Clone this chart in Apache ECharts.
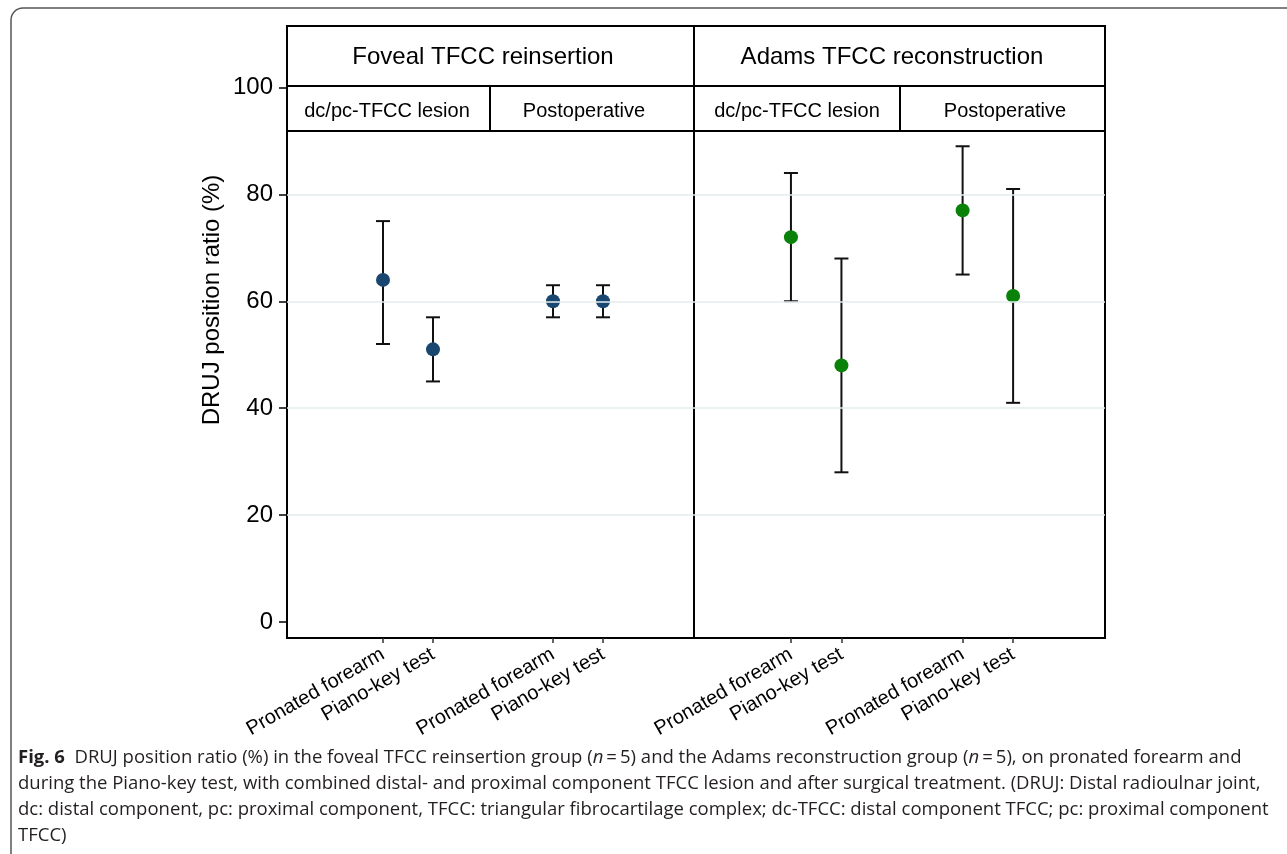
<!DOCTYPE html>
<html><head><meta charset="utf-8">
<script src="https://cdn.jsdelivr.net/npm/echarts@6/dist/echarts.min.js"></script>
<style>html,body{margin:0;padding:0;background:#fff}#c{width:1287px;height:854px}</style>
</head><body><div id="c"></div>
<script>
// ---------- data ----------
const groups = ['Foveal TFCC reinsertion', 'Adams TFCC reconstruction'];
const phases = ['dc/pc-TFCC lesion', 'Postoperative'];
const conditions = ['Pronated forearm', 'Piano-key test'];
const yTicks = [0, 20, 40, 60, 80, 100];
const yGridValues = [20, 40, 60, 80];
const yTitle = 'DRUJ position ratio (%)';
// order: lesion/pronated, lesion/piano-key, postop/pronated, postop/piano-key
const fovealMean = [64, 51, 60, 60];
const fovealLow  = [52, 45, 57, 57];
const fovealHigh = [75, 57, 63, 63];
const adamsMean  = [72, 48, 77, 61];
const adamsLow   = [60, 28, 65, 41];
const adamsHigh  = [84, 68, 89, 81];
const captionLines = [
  '{b|Fig. 6}  DRUJ position ratio (%) in the foveal TFCC reinsertion group ({i|n}\u2009=\u20095) and the Adams reconstruction group ({i|n}\u2009=\u20095), on pronated forearm and',
  'during the Piano-key test, with combined distal- and proximal component TFCC lesion and after surgical treatment. (DRUJ: Distal radioulnar joint,',
  'dc: distal component, pc: proximal component, TFCC: triangular fibrocartilage complex; dc-TFCC: distal component TFCC; pc: proximal component',
  'TFCC)'
];

// ---------- layout ----------
const xSlots = [1, 2, 4.4, 5.4];
const X_MIN = -0.92, X_MAX = 7.22;
const Y_MIN = -3, Y_MAX = 111.5;
const FONT = 'Liberation Sans, Arial, Helvetica, sans-serif';
const panels = [
  {left: 287, width: 407, mean: fovealMean, low: fovealLow, high: fovealHigh, color: '#1a476f'},
  {left: 694, width: 411, mean: adamsMean, low: adamsLow, high: adamsHigh, color: '#0a820a'}
];
const TOP = 26, BOTTOM_Y = 638;

function condName(v) {
  let idx = 0;
  xSlots.forEach((s, i) => { if (Math.abs(s - v) < 1e-6) idx = i; });
  return conditions[idx % 2];
}

const grids = [], xAxes = [], yAxes = [], series = [];
panels.forEach((p, k) => {
  grids.push({left: p.left, top: TOP, width: p.width, height: BOTTOM_Y - TOP,
    show: true, borderColor: '#000', borderWidth: 2, backgroundColor: 'transparent'});
  xAxes.push({type: 'value', gridIndex: k, min: X_MIN, max: X_MAX, position: 'bottom',
    splitLine: {show: false},
    axisLine: {show: true, onZero: false, lineStyle: {color: '#000', width: 2}},
    axisTick: {show: true, customValues: xSlots, length: 5, lineStyle: {color: '#333', width: 1.5}},
    axisLabel: {show: true, customValues: xSlots, rotate: 30, margin: 15, fontSize: 20,
      fontFamily: FONT, color: '#000', formatter: v => condName(v)}});
  yAxes.push({type: 'value', gridIndex: k, min: Y_MIN, max: Y_MAX, position: 'left',
    splitLine: {show: false},
    axisLine: {show: k === 0, onZero: false, lineStyle: {color: '#000', width: 2}},
    axisTick: {show: k === 0, customValues: yTicks, length: 8, lineStyle: {color: '#000', width: 1.5}},
    axisLabel: {show: k === 0, customValues: yTicks, margin: 14, fontSize: 24, fontFamily: FONT, color: '#000'}});
  // gridlines
  series.push({type: 'scatter', xAxisIndex: k, yAxisIndex: k, data: [], z: 1, silent: true,
    markLine: {silent: true, symbol: ['none', 'none'], label: {show: false},
      lineStyle: {color: '#e3ecef', width: 1.5, type: 'solid'},
      data: yGridValues.map(v => ({yAxis: v}))}});
  // error bars
  series.push({type: 'custom', xAxisIndex: k, yAxisIndex: k, z: 2,
    data: xSlots.map((s, i) => [s, p.low[i], p.high[i]]),
    renderItem: (params, api) => {
      const x = api.value(0);
      const a = api.coord([x, api.value(1)]);
      const b = api.coord([x, api.value(2)]);
      const cap = 7;
      const st = {stroke: '#111', lineWidth: 2};
      return {type: 'group', children: [
        {type: 'line', shape: {x1: a[0], y1: a[1], x2: b[0], y2: b[1]}, style: st},
        {type: 'line', shape: {x1: a[0] - cap, y1: a[1], x2: a[0] + cap, y2: a[1]}, style: st},
        {type: 'line', shape: {x1: b[0] - cap, y1: b[1], x2: b[0] + cap, y2: b[1]}, style: st}
      ]};
    }});
  // means
  series.push({type: 'scatter', xAxisIndex: k, yAxisIndex: k, z: 3,
    symbol: 'circle', symbolSize: 14, itemStyle: {color: p.color, opacity: 1},
    data: xSlots.map((s, i) => [s, p.mean[i]])});
});

const LINE = {stroke: '#000', lineWidth: 2};
const graphic = [
  {type: 'rect', shape: {x: 11, y: 8, width: 1320, height: 900, r: 12}, style: {fill: 'none', stroke: '#555', lineWidth: 1.5}, silent: true},
  {type: 'line', shape: {x1: 287, y1: 86, x2: 1105, y2: 86}, style: LINE},
  {type: 'line', shape: {x1: 287, y1: 131, x2: 1105, y2: 131}, style: LINE},
  {type: 'line', shape: {x1: 490, y1: 86, x2: 490, y2: 131}, style: LINE},
  {type: 'line', shape: {x1: 900, y1: 86, x2: 900, y2: 131}, style: LINE},
  {type: 'text', x: 483, y: 57, style: {text: groups[0], fontSize: 24, fontFamily: FONT, fill: '#000', textAlign: 'center', textVerticalAlign: 'middle'}},
  {type: 'text', x: 892, y: 57, style: {text: groups[1], fontSize: 24, fontFamily: FONT, fill: '#000', textAlign: 'center', textVerticalAlign: 'middle'}},
  {type: 'text', x: 387, y: 111, style: {text: phases[0], fontSize: 20, fontFamily: FONT, fill: '#000', textAlign: 'center', textVerticalAlign: 'middle'}},
  {type: 'text', x: 584, y: 111, style: {text: phases[1], fontSize: 20, fontFamily: FONT, fill: '#000', textAlign: 'center', textVerticalAlign: 'middle'}},
  {type: 'text', x: 797, y: 111, style: {text: phases[0], fontSize: 20, fontFamily: FONT, fill: '#000', textAlign: 'center', textVerticalAlign: 'middle'}},
  {type: 'text', x: 1005, y: 111, style: {text: phases[1], fontSize: 20, fontFamily: FONT, fill: '#000', textAlign: 'center', textVerticalAlign: 'middle'}},
  {type: 'text', x: 212, y: 300, rotation: Math.PI / 2, style: {text: yTitle, fontSize: 24, fontFamily: FONT, fill: '#000', textAlign: 'center', textVerticalAlign: 'middle'}}
];
const CAP_FONT = 'Open Sans, Noto Sans, sans-serif';
const CAP_SIZE = 18.5;
captionLines.forEach((t, i) => {
  graphic.push({type: 'text', x: 18, y: 758 + i * 26, style: {
    text: t, fontSize: CAP_SIZE, fontFamily: CAP_FONT, fill: '#231f20', textAlign: 'left', textVerticalAlign: 'middle',
    rich: {
      b: {fontSize: CAP_SIZE, fontFamily: CAP_FONT, fontWeight: 'bold', fill: '#231f20'},
      i: {fontSize: CAP_SIZE, fontFamily: CAP_FONT, fontStyle: 'italic', fill: '#231f20'}
    }}});
});

const chart = echarts.init(document.getElementById('c'), null, {renderer: 'canvas'});
chart.setOption({
  animation: false,
  backgroundColor: '#fff',
  grid: grids, xAxis: xAxes, yAxis: yAxes, series: series, graphic: graphic
});
</script></body></html>
